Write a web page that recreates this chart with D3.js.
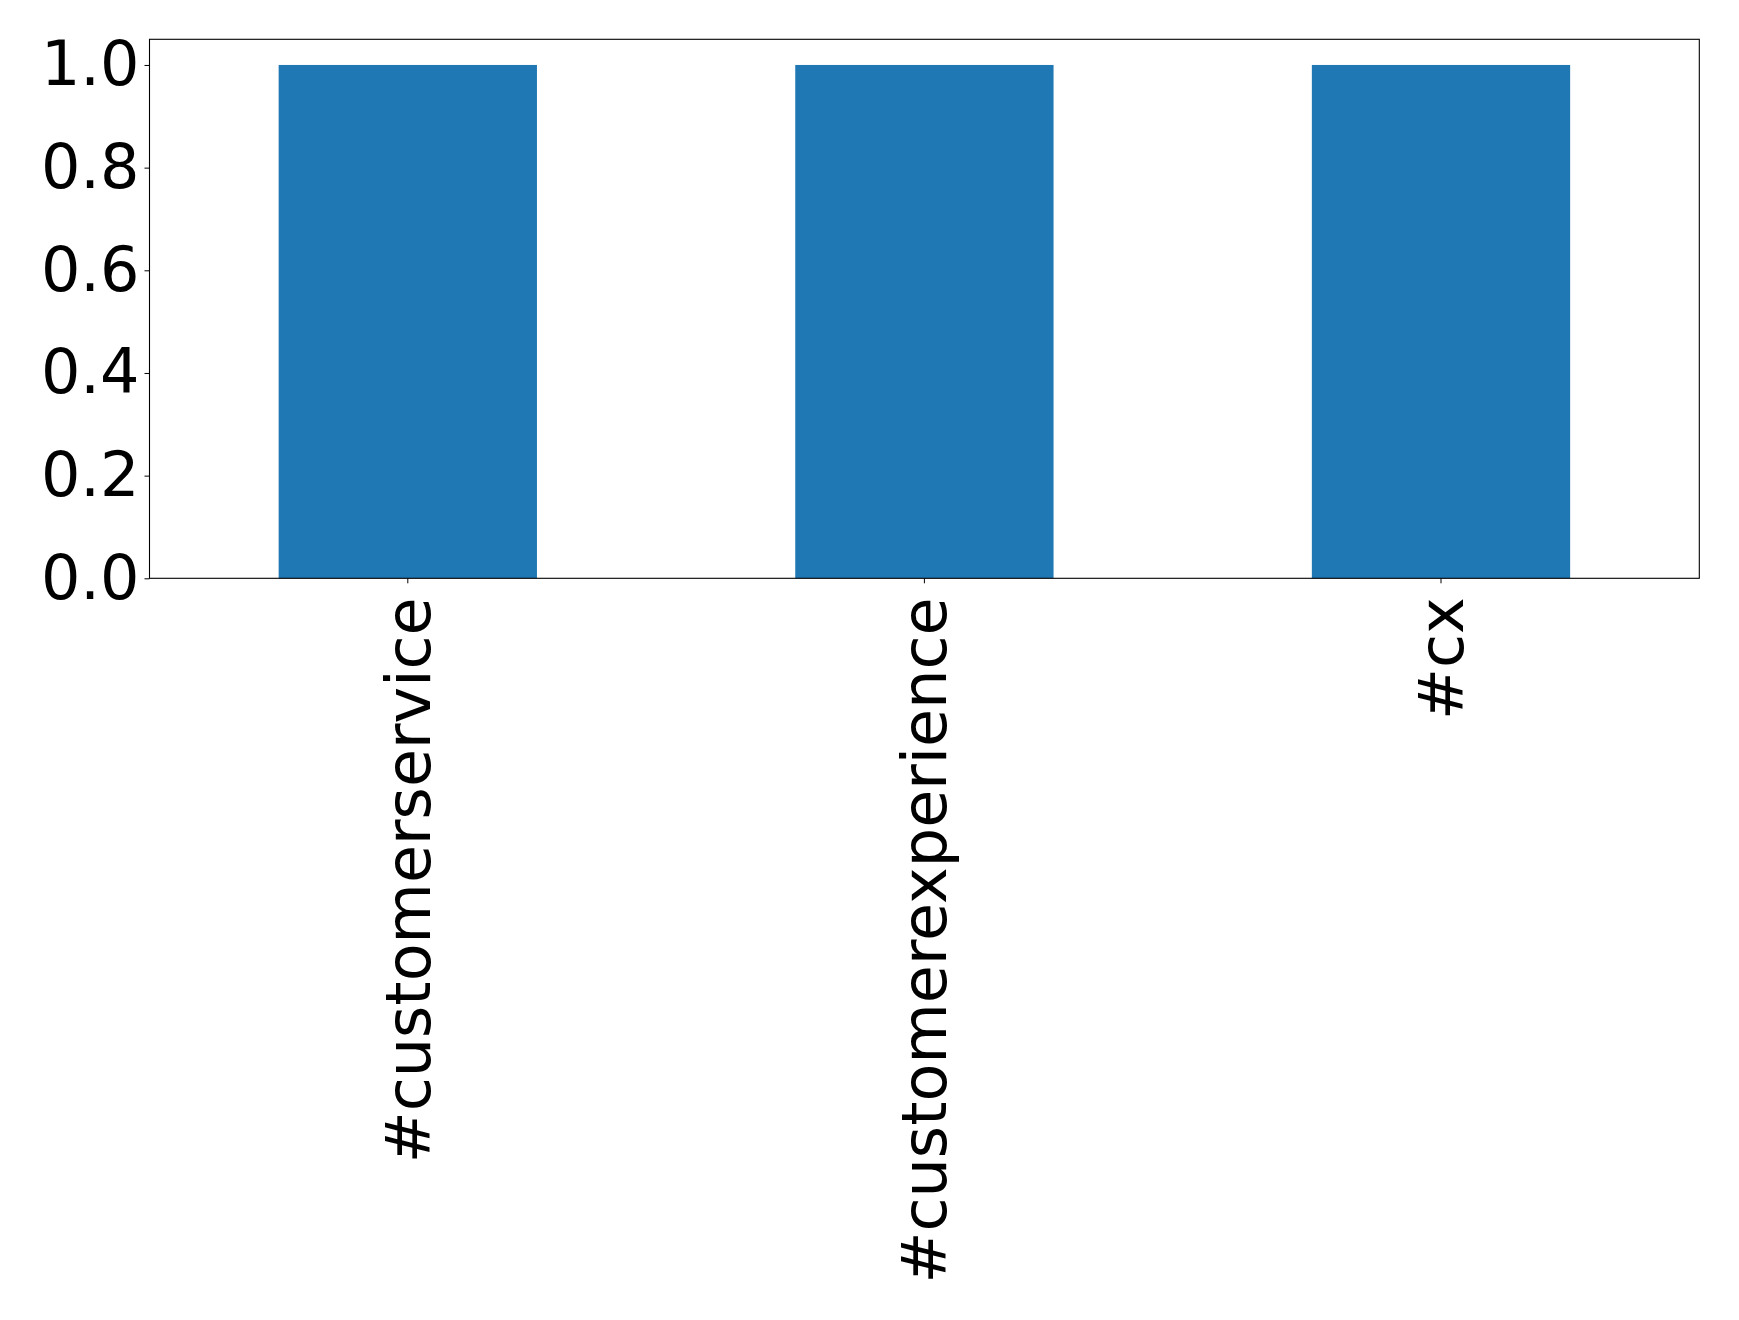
<!DOCTYPE html>
<html>
<head>
<meta charset="utf-8">
<script src="https://cdn.jsdelivr.net/npm/d3@7"></script>
<style>
  html, body { margin: 0; padding: 0; background: #ffffff; }
  svg { display: block; }
</style>
</head>
<body>
<svg id="chart" width="1739" height="1320"></svg>
<script>
const categories = ["#customerservice", "#customerexperience", "#cx"];
const values = [1, 1, 1];
const yTicks = [0.0, 0.2, 0.4, 0.6, 0.8, 1.0];

const W = 1739, H = 1320;
const margin = { left: 149.5, top: 39.3, right: W - 1699.3, bottom: H - 578.3 };
const svg = d3.select("#chart");
const iw = W - margin.left - margin.right;
const ih = H - margin.top - margin.bottom;
const g = svg.append("g").attr("transform", `translate(${margin.left},${margin.top})`);

const x = d3.scaleBand().domain(categories).range([0, iw]).paddingInner(0.5).paddingOuter(0.25);
const y = d3.scaleLinear().domain([0, 1.05]).range([ih, 0]);

g.selectAll("rect.bar").data(categories).enter().append("rect")
  .attr("class", "bar")
  .attr("x", d => x(d))
  .attr("width", x.bandwidth())
  .attr("y", (d, i) => y(values[i]))
  .attr("height", (d, i) => y(0) - y(values[i]))
  .attr("fill", "#1f77b4");

const fontFam = "'DejaVu Sans', sans-serif";

const yAxis = g.append("g")
  .call(d3.axisLeft(y).tickValues(yTicks).tickFormat(d3.format(".1f")).tickSize(5).tickPadding(5));
yAxis.select(".domain").remove();
yAxis.selectAll("text").style("font-family", fontFam).style("font-size", "62px").attr("fill", "#000");
yAxis.selectAll("line").attr("stroke", "#000").attr("stroke-width", 1);

const xAxis = g.append("g").attr("transform", `translate(0,${ih})`)
  .call(d3.axisBottom(x).tickSize(5).tickPadding(5));
xAxis.select(".domain").remove();
xAxis.selectAll("line").attr("stroke", "#000").attr("stroke-width", 1);
xAxis.selectAll("text")
  .style("font-family", fontFam).style("font-size", "62px").attr("fill", "#000")
  .attr("transform", "rotate(-90)")
  .attr("text-anchor", "end")
  .attr("x", -19)
  .attr("y", 0)
  .attr("dy", "0.35em");

g.append("rect")
  .attr("x", 0).attr("y", 0).attr("width", iw).attr("height", ih)
  .attr("fill", "none").attr("stroke", "#000").attr("stroke-width", 1.1);
</script>
</body>
</html>
